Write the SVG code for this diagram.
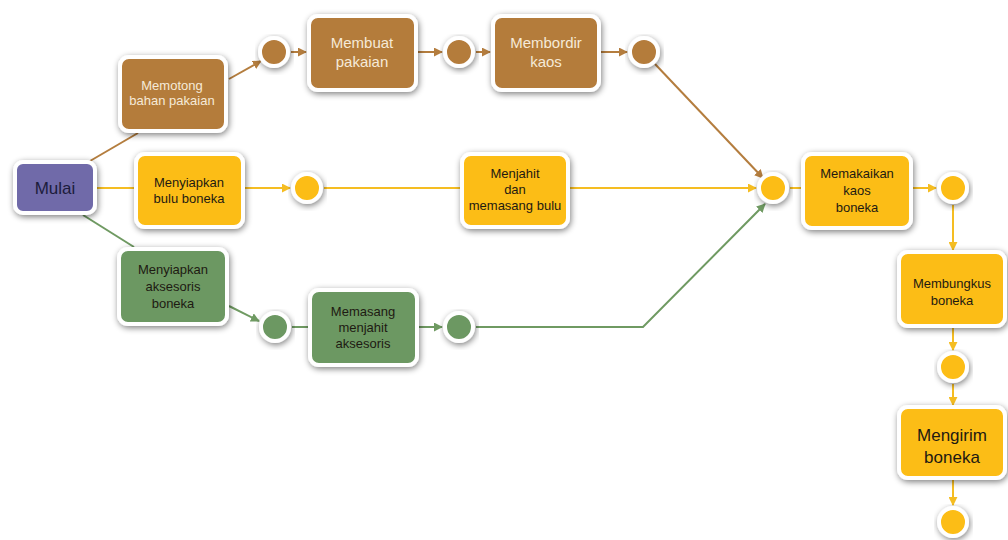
<svg xmlns="http://www.w3.org/2000/svg" width="1008" height="540" viewBox="0 0 1008 540">
  <defs>
    <filter id="shadow" x="-20%" y="-20%" width="140%" height="150%">
      <feGaussianBlur in="SourceAlpha" stdDeviation="3"/>
      <feOffset dx="1" dy="2" result="b"/>
      <feComponentTransfer><feFuncA type="linear" slope="0.5"/></feComponentTransfer>
      <feMerge><feMergeNode/><feMergeNode in="SourceGraphic"/></feMerge>
    </filter>
    <marker id="ah-brown" viewBox="0 0 10 10" refX="9" refY="5" markerWidth="9" markerHeight="9" markerUnits="userSpaceOnUse" orient="auto">
      <path d="M0,0 L10,5 L0,10 z" fill="#b47d3e"/>
    </marker>
    <marker id="ah-yellow" viewBox="0 0 10 10" refX="9" refY="5" markerWidth="9" markerHeight="9" markerUnits="userSpaceOnUse" orient="auto">
      <path d="M0,0 L10,5 L0,10 z" fill="#f5bd22"/>
    </marker>
    <marker id="ah-green" viewBox="0 0 10 10" refX="9" refY="5" markerWidth="9" markerHeight="9" markerUnits="userSpaceOnUse" orient="auto">
      <path d="M0,0 L10,5 L0,10 z" fill="#6f9a62"/>
    </marker>
  </defs>
  <style>
    .box { stroke: #ffffff; stroke-width: 4; filter: url(#shadow); }
    .dot { stroke: #ffffff; stroke-width: 4; filter: url(#shadow); }
    .brown { fill: #b47b3b; }
    .yellow { fill: #fcbd12; }
    .green { fill: #6c9862; }
    .purple { fill: #6f6aa9; }
    .ln { fill: none; stroke-width: 2; }
    .lb { stroke: #b47d3e; }
    .ly { stroke: #f5bd22; }
    .lg { stroke: #6f9a62; }
    text { font-family: "Liberation Sans", Arial, sans-serif; text-anchor: middle; }
    .t13 { font-size: 13px; }
    .t15 { font-size: 15px; }
    .t17 { font-size: 17px; }
    .light { fill: #f6ead8; }
    .dark { fill: #1e1a12; }
    .navy { fill: #1c1c3c; }
  </style>

  <rect width="1008" height="540" fill="#ffffff"/>

  <!-- connectors -->
  <g id="connectors">
    <!-- clothing branch -->
    <line class="ln lb" x1="90" y1="161" x2="138" y2="133"/>
    <line class="ln lb" x1="229" y1="79" x2="261" y2="61" marker-end="url(#ah-brown)"/>
    <line class="ln lb" x1="291" y1="52" x2="306" y2="52" marker-end="url(#ah-brown)"/>
    <line class="ln lb" x1="418" y1="52" x2="442" y2="52" marker-end="url(#ah-brown)"/>
    <line class="ln lb" x1="476" y1="52" x2="490" y2="52" marker-end="url(#ah-brown)"/>
    <line class="ln lb" x1="601" y1="52" x2="627" y2="52" marker-end="url(#ah-brown)"/>
    <line class="ln lb" x1="655" y1="64" x2="763" y2="178" marker-end="url(#ah-brown)"/>
    <!-- fur branch -->
    <line class="ln ly" x1="97" y1="188" x2="134" y2="188"/>
    <line class="ln ly" x1="245" y1="188" x2="290" y2="188" marker-end="url(#ah-yellow)"/>
    <line class="ln ly" x1="324" y1="188" x2="460" y2="188"/>
    <line class="ln ly" x1="570" y1="188" x2="756" y2="188" marker-end="url(#ah-yellow)"/>
    <!-- accessory branch -->
    <line class="ln lg" x1="83" y1="215" x2="134" y2="247"/>
    <line class="ln lg" x1="229" y1="306" x2="259" y2="321" marker-end="url(#ah-green)"/>
    <line class="ln lg" x1="292" y1="327" x2="308" y2="327"/>
    <line class="ln lg" x1="418" y1="327" x2="442" y2="327" marker-end="url(#ah-green)"/>
    <polyline class="ln lg" points="476,327 643,327 765,204" marker-end="url(#ah-green)"/>
    <!-- final chain -->
    <line class="ln ly" x1="790" y1="188" x2="801" y2="188"/>
    <line class="ln ly" x1="913" y1="188" x2="936" y2="188" marker-end="url(#ah-yellow)"/>
    <line class="ln ly" x1="953" y1="205" x2="953" y2="250" marker-end="url(#ah-yellow)"/>
    <line class="ln ly" x1="953" y1="328" x2="953" y2="350" marker-end="url(#ah-yellow)"/>
    <line class="ln ly" x1="953" y1="384" x2="953" y2="405" marker-end="url(#ah-yellow)"/>
    <line class="ln ly" x1="953" y1="480" x2="953" y2="505" marker-end="url(#ah-yellow)"/>
  </g>

  <!-- event circles -->
  <g id="circle-b1"><circle class="dot brown" cx="274" cy="52" r="14"/></g>
  <g id="circle-b2"><circle class="dot brown" cx="459" cy="52" r="14"/></g>
  <g id="circle-b3"><circle class="dot brown" cx="644" cy="52" r="14"/></g>
  <g id="circle-y1"><circle class="dot yellow" cx="307" cy="188" r="14"/></g>
  <g id="circle-join"><circle class="dot yellow" cx="773" cy="188" r="14"/></g>
  <g id="circle-y2"><circle class="dot yellow" cx="953" cy="188" r="14"/></g>
  <g id="circle-y3"><circle class="dot yellow" cx="953" cy="367" r="14"/></g>
  <g id="circle-y4"><circle class="dot yellow" cx="953" cy="522" r="14"/></g>
  <g id="circle-g1"><circle class="dot green" cx="275" cy="327" r="14"/></g>
  <g id="circle-g2"><circle class="dot green" cx="459" cy="327" r="14"/></g>

  <!-- task nodes -->
  <g id="mulai">
    <rect class="box purple" x="15" y="162" width="80" height="51" rx="8"/>
    <text class="t17 navy" x="55" y="194">Mulai</text>
  </g>
  <g id="memotong">
    <rect class="box brown" x="120" y="57" width="106" height="74" rx="9"/>
    <text class="t13 light" x="172" y="90">Memotong</text>
    <text class="t13 light" x="172" y="105">bahan pakaian</text>
  </g>
  <g id="membuat">
    <rect class="box brown" x="309" y="16" width="107" height="74" rx="9"/>
    <text class="t15 light" x="362" y="48">Membuat</text>
    <text class="t15 light" x="362" y="67">pakaian</text>
  </g>
  <g id="membordir">
    <rect class="box brown" x="493" y="16" width="106" height="74" rx="9"/>
    <text class="t15 light" x="546" y="48">Membordir</text>
    <text class="t15 light" x="546" y="67">kaos</text>
  </g>
  <g id="menyiapkan-bulu">
    <rect class="box yellow" x="136" y="154" width="107" height="73" rx="9"/>
    <text class="t13 dark" x="189" y="187">Menyiapkan</text>
    <text class="t13 dark" x="189" y="203">bulu boneka</text>
  </g>
  <g id="menjahit-bulu">
    <rect class="box yellow" x="462" y="154" width="106" height="73" rx="9"/>
    <text class="t13 dark" x="515" y="178">Menjahit</text>
    <text class="t13 dark" x="515" y="194">dan</text>
    <text class="t13 dark" x="515" y="210">memasang bulu</text>
  </g>
  <g id="menyiapkan-aksesoris">
    <rect class="box green" x="119" y="249" width="108" height="75" rx="9"/>
    <text class="t13 dark" x="173" y="274">Menyiapkan</text>
    <text class="t13 dark" x="173" y="291">aksesoris</text>
    <text class="t13 dark" x="173" y="308">boneka</text>
  </g>
  <g id="memasang-aksesoris">
    <rect class="box green" x="310" y="290" width="107" height="75" rx="9"/>
    <text class="t13 dark" x="363" y="316">Memasang</text>
    <text class="t13 dark" x="363" y="332">menjahit</text>
    <text class="t13 dark" x="363" y="348">aksesoris</text>
  </g>
  <g id="memakaikan">
    <rect class="box yellow" x="803" y="154" width="108" height="74" rx="9"/>
    <text class="t13 dark" x="857" y="178">Memakaikan</text>
    <text class="t13 dark" x="857" y="195">kaos</text>
    <text class="t13 dark" x="857" y="212">boneka</text>
  </g>
  <g id="membungkus">
    <rect class="box yellow" x="899" y="252" width="106" height="74" rx="9"/>
    <text class="t13 dark" x="952" y="288">Membungkus</text>
    <text class="t13 dark" x="952" y="305">boneka</text>
  </g>
  <g id="mengirim">
    <rect class="box yellow" x="899" y="407" width="106" height="71" rx="9"/>
    <text class="t17 dark" x="952" y="441">Mengirim</text>
    <text class="t17 dark" x="952" y="463">boneka</text>
  </g>
</svg>
